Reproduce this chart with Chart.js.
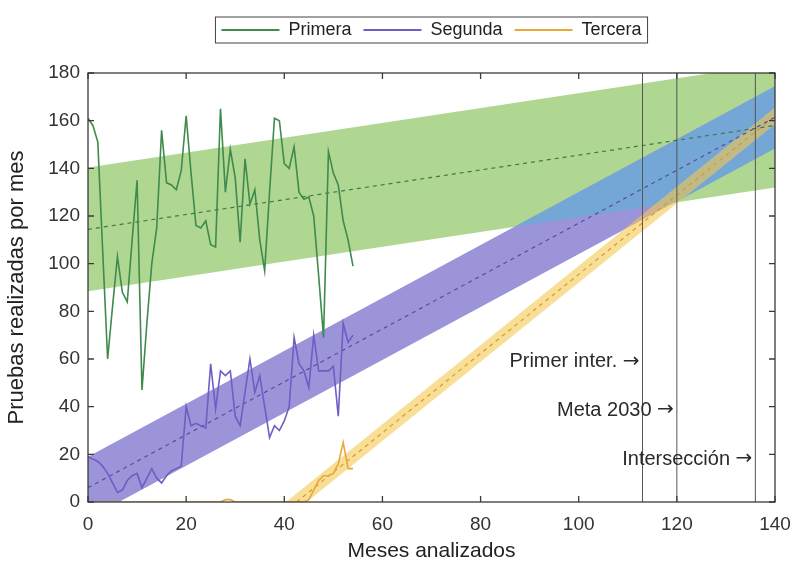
<!DOCTYPE html>
<html>
<head>
<meta charset="utf-8">
<script src="https://cdn.jsdelivr.net/npm/chart.js@4/dist/chart.umd.min.js"></script>
<style>
html, body { margin: 0; padding: 0; background: #fff; }
#wrap { width: 796px; height: 568px; }
</style>
</head>
<body>
<div id="wrap"><canvas id="myChart"></canvas></div>
<script>
// monthly test counts, months 0..54
const months = [];
for (let i = 0; i <= 54; i++) months.push(i);

const primera = [161, 158, 151, 105, 60, 82, 103, 88, 84, 110, 135, 47, 75, 100, 115, 156, 134, 133, 131, 139,
    162, 138, 116, 115, 118, 108, 107, 165, 130, 148, 136, 109, 144, 125, 131, 110, 97, 130, 161, 160,
    142, 140, 149, 130, 127, 128, 120, 95, 69, 147, 138, 133, 118, 110, 99];
const segunda = [19, 18, 17, 15, 12, 8, 4, 5, 9, 11, 12, 6, 10, 14, 10, 8, 11, 13, 14, 15,
    40, 32, 33, 32, 31, 58, 39, 55, 53, 55, 36, 32, 46, 60, 46, 53, 40, 27, 32, 30,
    34, 40, 69, 58, 55, 48, 70, 55, 55, 55, 57, 36, 75, 67, 70];
const tercera = [0, 0, 0, 0, 0, 0, 0, 0, 0, 0, 0, 0, 0, 0, 0, 0, 0, 0, 0, 0,
    0, 0, 0, 0, 0, 0, 0, 0, 1, 1, 0, 0, 0, 0, 0, 0, 0, 0, 0, 0,
    0, 0, 0, 0, 0, 1, 5, 9, 11, 11, 12, 16, 25, 14, 14];

// trend lines and bands (end points)
const trendX = [0, 140];
const primeraTrend = [114.4, 158];
const segundaTrend = [6, 161.4];
const terceraTrendX = [42.5, 140];
const terceraTrend = [0, 162];

const primeraUpper = [140.4, 184];
const primeraLower = [88.4, 132];
const segundaUpper = [19, 174.4];
const segundaLower = [-7, 148.4];
const terceraBandX = [38, 140];
const terceraUpper = [-3.9, 165.5];
const terceraLower = [-10.9, 158.5];
const overlapX = [87, 119.5, 140];
const overlapUpper = [115.6, 151.6, 174.4];
const overlapLower = [115.5, 125.6, 148.4];

// vertical markers
const markerX = [113, 120, 136];
const markerY = [59, 38.5, 18];
const markerLabels = ['Primer inter. →', 'Meta 2030 →', 'Intersección →'];

const xTicks = [0, 20, 40, 60, 80, 100, 120, 140];
const yTicks = [0, 20, 40, 60, 80, 100, 120, 140, 160, 180];

const FONT = "'Liberation Sans', Arial, sans-serif";

function pts(xs, ys) {
    let out = [];
    for (let i = 0; i < xs.length; i++) out.push({x: xs[i], y: ys[i]});
    return out;
}

function band(xs, ys, color, fill, order) {
    return {
        data: pts(xs, ys), borderWidth: 0, pointRadius: 0, borderColor: 'rgba(0,0,0,0)',
        backgroundColor: color, fill: fill, order: order, tension: 0
    };
}

const datasets = [
    {label: 'Primera', data: pts(months, primera), borderColor: '#3f8a4c', borderWidth: 1.6, pointRadius: 0, fill: false, order: 1},
    {label: 'Segunda', data: pts(months, segunda), borderColor: '#6f5cc4', borderWidth: 1.6, pointRadius: 0, fill: false, order: 1},
    {label: 'Tercera', data: pts(months, tercera), borderColor: '#e8a93a', borderWidth: 1.6, pointRadius: 0, fill: false, order: 1},
    {data: pts(trendX, primeraTrend), borderColor: '#3d7a45', borderWidth: 1.2, borderDash: [4, 4], pointRadius: 0, fill: false, order: 3},
    {data: pts(trendX, segundaTrend), borderColor: '#5a4aa8', borderWidth: 1.2, borderDash: [4, 4], pointRadius: 0, fill: false, order: 3},
    {data: pts(terceraTrendX, terceraTrend), borderColor: '#d99a2a', borderWidth: 1.2, borderDash: [4, 4], pointRadius: 0, fill: false, order: 3},
    band(terceraBandX, terceraUpper, 'rgba(244, 200, 80, 0.6)', '+1', 4),
    band(terceraBandX, terceraLower, 'rgba(0,0,0,0)', false, 4),
    band(overlapX, overlapUpper, '#74a7d6', '+1', 5),
    band(overlapX, overlapLower, 'rgba(0,0,0,0)', false, 5),
    band(trendX, segundaUpper, '#9c94d8', '+1', 6),
    band(trendX, segundaLower, 'rgba(0,0,0,0)', false, 6),
    band(trendX, primeraUpper, '#b0d792', '+1', 7),
    band(trendX, primeraLower, 'rgba(0,0,0,0)', false, 7)
];

for (let i = 0; i < markerX.length; i++) {
    datasets.push({data: [{x: markerX[i], y: 0}, {x: markerX[i], y: 180}], borderColor: '#555',
        borderWidth: 1, pointRadius: 0, fill: false, order: 2});
}

// push the plot down under the legend and center the legend over the plot
const legendGap = {
    id: 'legendGap',
    beforeInit(chart) {
        const fit = chart.legend.fit;
        chart.legend.fit = function () {
            fit.bind(chart.legend)();
            this.height += 24;
        };
    },
    afterLayout(chart) {
        const lg = chart.legend;
        lg.left = chart.chartArea.left;
        lg.right = chart.chartArea.right;
        lg.width = lg.right - lg.left;
    }
};

const frame = {
    id: 'frame',
    afterDraw(chart) {
        const ctx = chart.ctx;
        const a = chart.chartArea;
        const xs = chart.scales.x, ys = chart.scales.y;
        ctx.save();
        ctx.strokeStyle = '#3a3a3a';
        ctx.lineWidth = 1.3;
        ctx.strokeRect(a.left, a.top, a.right - a.left, a.bottom - a.top);
        ctx.beginPath();
        xTicks.forEach(v => {
            const px = xs.getPixelForValue(v);
            ctx.moveTo(px, a.bottom); ctx.lineTo(px, a.bottom - 6);
            ctx.moveTo(px, a.top); ctx.lineTo(px, a.top + 6);
        });
        yTicks.forEach(v => {
            const py = ys.getPixelForValue(v);
            ctx.moveTo(a.left, py); ctx.lineTo(a.left + 6, py);
            ctx.moveTo(a.right, py); ctx.lineTo(a.right - 6, py);
        });
        ctx.stroke();

        // marker labels, arrow drawn in DejaVu for a proper long arrow
        ctx.fillStyle = '#2a2a2a';
        ctx.textAlign = 'right';
        ctx.textBaseline = 'middle';
        for (let i = 0; i < markerX.length; i++) {
            const label = markerLabels[i];
            const arrow = label.slice(-1);
            const txt = label.slice(0, -1);
            const px = xs.getPixelForValue(markerX[i]) - 3;
            const py = ys.getPixelForValue(markerY[i]);
            ctx.font = "20px 'DejaVu Sans'";
            const aw = ctx.measureText(arrow).width;
            ctx.fillText(arrow, px, py);
            ctx.font = '20px ' + FONT;
            ctx.fillText(txt, px - aw, py);
        }

        // legend border
        const boxes = chart.legend.legendHitBoxes;
        if (boxes && boxes.length) {
            let l = Infinity, r = -Infinity, t = Infinity, b = -Infinity;
            boxes.forEach(h => {
                l = Math.min(l, h.left); r = Math.max(r, h.left + h.width);
                t = Math.min(t, h.top); b = Math.max(b, h.top + h.height);
            });
            ctx.strokeStyle = '#444';
            ctx.lineWidth = 1;
            ctx.strokeRect(l - 6, t - 4, r - l + 12, b - t + 8);
        }
        ctx.restore();
    }
};

const config = {
    type: 'line',
    data: {datasets: datasets},
    options: {
        responsive: true,
        maintainAspectRatio: false,
        animation: false,
        layout: {padding: {top: 9, right: 21, left: 0, bottom: 0}},
        plugins: {
            legend: {
                position: 'top',
                labels: {
                    font: {family: FONT, size: 18},
                    color: '#222',
                    boxWidth: 58,
                    boxHeight: 2,
                    padding: 12,
                    filter: (item, data) => !!data.datasets[item.datasetIndex].label,
                    generateLabels: (chart) => chart.data.datasets.map((d, i) => ({
                        text: d.label || '', fillStyle: d.borderColor, strokeStyle: d.borderColor,
                        lineWidth: 0, datasetIndex: i, hidden: false, fontColor: '#222'
                    }))
                }
            },
            tooltip: {enabled: false}
        },
        scales: {
            x: {
                type: 'linear', min: 0, max: 140,
                afterFit: (s) => { s.height = 66; },
                ticks: {stepSize: 20, font: {family: FONT, size: 19}, color: '#333', padding: 3},
                grid: {display: false},
                border: {display: false},
                title: {display: true, text: 'Meses analizados', font: {family: FONT, size: 21}, color: '#222', padding: {top: 7}}
            },
            y: {
                min: 0, max: 180,
                afterFit: (s) => { s.width = 88; },
                ticks: {stepSize: 20, font: {family: FONT, size: 19}, color: '#333', padding: 0},
                grid: {display: false},
                border: {display: false},
                title: {display: true, text: 'Pruebas realizadas por mes', font: {family: FONT, size: 22}, color: '#222', padding: {bottom: 0}}
            }
        }
    },
    plugins: [legendGap, frame]
};

const myChart = new Chart(document.getElementById('myChart'), config);
</script>
</body>
</html>
